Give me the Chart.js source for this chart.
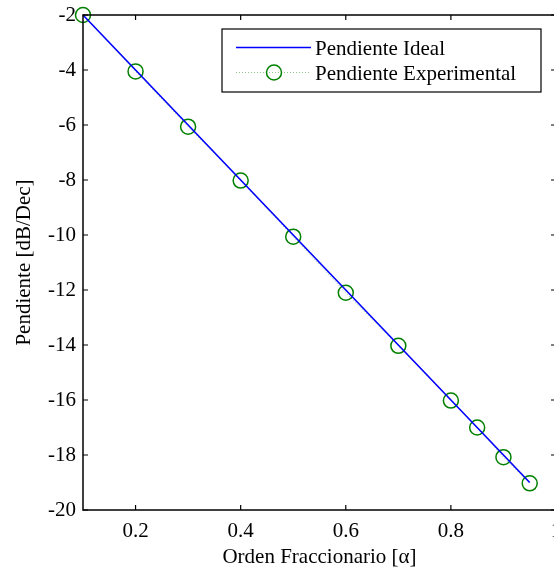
<!DOCTYPE html>
<html>
<head>
<meta charset="utf-8">
<script src="https://cdn.jsdelivr.net/npm/chart.js@4"></script>
<style>
  html, body { margin: 0; padding: 0; background: #fff; overflow: hidden; }
  #wrap { position: relative; width: 580px; height: 571px; }
</style>
</head>
<body>
<div id="wrap"><canvas id="chart"></canvas></div>
<script>
/* global Chart */

const ordenes = [0.1, 0.2, 0.3, 0.4, 0.5, 0.6, 0.7, 0.8, 0.85, 0.9, 0.95]
const pendienteIdeal = [-2, -4, -6, -8, -10, -12, -14, -16, -17, -18, -19]
const pendienteExperimental = [-2, -4.05, -6.06, -8.02, -10.06, -12.1, -14.03, -16.02, -17, -18.08, -19.03]
const xTicks = [0.2, 0.4, 0.6, 0.8, 1]
const yTicks = [-2, -4, -6, -8, -10, -12, -14, -16, -18, -20]

const serif = 'Liberation Serif'

function toPoints (xs, ys) {
  return xs.map((x, i) => ({ x, y: ys[i] }))
}

// marco de los ejes con ticks hacia adentro (estilo MATLAB)
const framePlugin = {
  id: 'frame',
  afterDraw (chart) {
    const { ctx, chartArea: a, scales } = chart
    const len = 5
    ctx.save()
    ctx.strokeStyle = '#000'
    ctx.lineWidth = 1.5
    ctx.strokeRect(a.left, a.top, a.right - a.left, a.bottom - a.top)
    ctx.lineWidth = 1.2
    ctx.beginPath()
    for (const v of xTicks) {
      const px = scales.x.getPixelForValue(v)
      ctx.moveTo(px, a.bottom); ctx.lineTo(px, a.bottom - len)
      ctx.moveTo(px, a.top); ctx.lineTo(px, a.top + len)
    }
    for (const v of yTicks) {
      const py = scales.y.getPixelForValue(v)
      ctx.moveTo(a.left, py); ctx.lineTo(a.left + len, py)
      ctx.moveTo(a.right, py); ctx.lineTo(a.right - len, py)
    }
    ctx.stroke()
    ctx.restore()
  }
}

const legendPlugin = {
  id: 'boxLegend',
  afterDraw (chart) {
    const { ctx } = chart
    const box = { x: 222, y: 29, w: 319, h: 63 }
    ctx.save()
    ctx.fillStyle = '#fff'
    ctx.fillRect(box.x, box.y, box.w, box.h)
    ctx.strokeStyle = '#000'
    ctx.lineWidth = 1.2
    ctx.strokeRect(box.x, box.y, box.w, box.h)
    ctx.font = `21px "${serif}"`
    ctx.textBaseline = 'alphabetic'
    chart.data.datasets.forEach((ds, i) => {
      const cy = 47.5 + i * 25
      ctx.save()
      ctx.strokeStyle = ds.borderColor
      ctx.lineWidth = ds.borderWidth
      ctx.setLineDash(ds.borderDash || [])
      ctx.beginPath()
      ctx.moveTo(236, cy)
      ctx.lineTo(311, cy)
      ctx.stroke()
      ctx.restore()
      if (ds.pointRadius > 0) {
        ctx.beginPath()
        ctx.strokeStyle = ds.pointBorderColor
        ctx.lineWidth = ds.pointBorderWidth
        ctx.arc(274, cy, ds.pointRadius, 0, Math.PI * 2)
        ctx.stroke()
      }
      ctx.fillStyle = '#000'
      ctx.fillText(ds.label, 315, cy + 7.5)
    })
    ctx.restore()
  }
}

new Chart(document.getElementById('chart'), {
  type: 'line',
  data: {
    datasets: [
      {
        label: 'Pendiente Ideal',
        data: toPoints(ordenes, pendienteIdeal),
        borderColor: '#0000ff',
        borderWidth: 1.6,
        pointRadius: 0,
        fill: false,
        clip: false
      },
      {
        label: 'Pendiente Experimental',
        data: toPoints(ordenes, pendienteExperimental),
        borderColor: 'rgba(0,128,0,0.45)',
        borderWidth: 1,
        borderDash: [1, 2],
        pointStyle: 'circle',
        pointRadius: 7.5,
        pointBorderColor: '#008000',
        pointBackgroundColor: 'rgba(0,0,0,0)',
        pointBorderWidth: 1.5,
        fill: false,
        clip: false
      }
    ]
  },
  options: {
    responsive: true,
    maintainAspectRatio: false,
    animation: false,
    devicePixelRatio: 1,
    layout: { padding: { left: 0, top: 15, right: 24, bottom: 0 } },
    plugins: {
      legend: { display: false },
      tooltip: { enabled: false }
    },
    scales: {
      x: {
        type: 'linear',
        min: 0.1,
        max: 1,
        grid: { display: false, drawTicks: false },
        border: { display: false },
        afterBuildTicks: (scale) => { scale.ticks = xTicks.map((v) => ({ value: v })) },
        afterFit: (scale) => {
          scale.height = 61
          scale.paddingLeft = 0
          scale.paddingRight = 0
        },
        ticks: {
          color: '#000',
          padding: 9,
          maxRotation: 0,
          autoSkip: false,
          font: { family: serif, size: 21 },
          callback: (v) => String(v)
        },
        title: {
          display: true,
          text: 'Orden Fraccionario [α]',
          color: '#000',
          font: { family: serif, size: 21 },
          padding: { top: 0, bottom: 1 }
        }
      },
      y: {
        type: 'linear',
        min: -20,
        max: -2,
        grid: { display: false, drawTicks: false },
        border: { display: false },
        afterBuildTicks: (scale) => { scale.ticks = yTicks.map((v) => ({ value: v })) },
        afterFit: (scale) => {
          scale.width = 83
          scale.paddingTop = 0
          scale.paddingBottom = 0
        },
        ticks: {
          color: '#000',
          padding: 7,
          autoSkip: false,
          font: { family: serif, size: 21 },
          callback: (v) => String(v)
        },
        title: {
          display: true,
          text: 'Pendiente [dB/Dec]',
          color: '#000',
          font: { family: serif, size: 21 },
          padding: { top: 12, bottom: 0 }
        }
      }
    }
  },
  plugins: [framePlugin, legendPlugin]
})
</script>
</body>
</html>
